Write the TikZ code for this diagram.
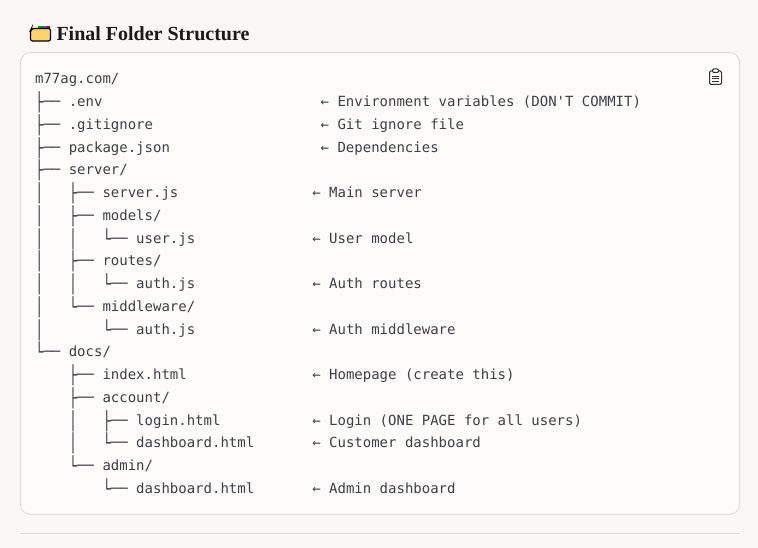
\documentclass[tikz,border=0pt]{standalone}
\usepackage{graphicx}
\usepackage{fontspec}
\setmainfont{Liberation Serif}
\setmonofont{DejaVu Sans Mono}
\usetikzlibrary{positioning}
\definecolor{pagebg}{RGB}{249,248,245}
\definecolor{cardbg}{RGB}{253,252,251}
\definecolor{cardline}{RGB}{224,221,215}
\definecolor{codeink}{RGB}{62,62,70}
\definecolor{iconink}{RGB}{50,50,54}
\definecolor{titleink}{RGB}{26,26,26}
\definecolor{folderfill}{RGB}{252,211,110}
\tikzset{every picture/.style={line width=0.75pt}}
\tikzset{
  treeline/.style={anchor=base west,inner sep=0pt,text=codeink,font=\ttfamily\fontsize{10.5pt}{12pt}\selectfont},
  noteline/.style={treeline},
  cardshape/.style={draw=cardline,fill=cardbg,rounded corners=7.5pt},
  iconline/.style={draw=iconink,line width=0.75pt}
}
%taller tree glyphs
\newcommand{\tallglyph}[1]{\raisebox{-0.77pt}{\scalebox{1}[1.28]{#1}}}
\newcommand{\barall}{\tallglyph{│}}
\newcommand{\barmid}{\tallglyph{├}}
\newcommand{\barend}{\tallglyph{└}}

\begin{document}
\begin{tikzpicture}[x=0.75pt,y=0.75pt,yscale=-1,xscale=1]
%page
\fill [pagebg] (0,0) rectangle (758,548);
\useasboundingbox (0,0) rectangle (758,548);

%card
\draw [cardshape] (20.5,52.5) rectangle (739.5,514.5);
%rule under the card
\draw [cardline] (20,533.5) -- (740,533.5);

%folder emoji
\fill [green!60!black] (38,26.5) rectangle (44,30);
\fill [blue!70!white] (43,26.5) rectangle (47,30);
\fill [red!80!black] (46.5,26.5) rectangle (50,30);
\draw [black,line width=0.9pt,fill=folderfill,rounded corners=1.5pt] (30.5,30.5) -- (31.5,28.5) -- (50.5,28.5) -- (50.5,41) -- (30.5,41) -- cycle;

%clipboard icon
\draw [iconline,rounded corners=1pt] (709.5,71) rectangle (721.5,84.5);
\draw [iconline,fill=cardbg,rounded corners=0.8pt] (712.5,69) rectangle (718.5,72.5);
\draw [iconline,line width=0.6pt] (712,76) -- (719,76);
\draw [iconline,line width=0.6pt] (712,78.5) -- (719,78.5);
\draw [iconline,line width=0.6pt] (712,81) -- (719,81);

% Title
\node (title) [anchor=base west,inner sep=0pt,text=titleink,font=\fontsize{15pt}{17pt}\selectfont\bfseries] at (56,40.5) {Final Folder Structure};

% Tree
\node (root) [treeline] at (34.6,84) {m77ag.com/};
\node (envfile) [treeline] at (34.6,107) {\barmid──~.env};
\node (gitfile) [treeline] at (34.6,130) {\barmid──~.gitignore};
\node (pkgfile) [treeline] at (34.6,153) {\barmid──~package.json};
\node (serverdir) [treeline] at (34.6,175) {\barmid──~server/};
\node (serverjs) [treeline] at (34.6,198) {\barall~~~\barmid──~server.js};
\node (modelsdir) [treeline] at (34.6,221) {\barall~~~\barmid──~models/};
\node (userjs) [treeline] at (34.6,244) {\barall~~~\barall~~~\barend──~user.js};
\node (routesdir) [treeline] at (34.6,266) {\barall~~~\barmid──~routes/};
\node (authjs) [treeline] at (34.6,289) {\barall~~~\barall~~~\barend──~auth.js};
\node (middir) [treeline] at (34.6,312) {\barall~~~\barend──~middleware/};
\node (midjs) [treeline] at (34.6,335) {\barall~~~~~~~\barend──~auth.js};
\node (docsdir) [treeline] at (34.6,357) {\barend──~docs/};
\node (indexhtml) [treeline] at (34.6,380) {~~~~\barmid──~index.html};
\node (accountdir) [treeline] at (34.6,403) {~~~~\barmid──~account/};
\node (loginhtml) [treeline] at (34.6,426) {~~~~\barall~~~\barmid──~login.html};
\node (custhtml) [treeline] at (34.6,448) {~~~~\barall~~~\barend──~dashboard.html};
\node (admindir) [treeline] at (34.6,471) {~~~~\barend──~admin/};
\node (adminhtml) [treeline] at (34.6,494) {~~~~~~~~\barend──~dashboard.html};

% Notes
\node (envnote) [noteline] at (320.2,107) {←~Environment variables (DON'T COMMIT)};
\node (gitnote) [noteline] at (320.2,130) {←~Git ignore file};
\node (pkgnote) [noteline] at (320.2,153) {←~Dependencies};
\node (servernote) [noteline] at (311.8,198) {←~Main server};
\node (usernote) [noteline] at (311.8,244) {←~User model};
\node (authnote) [noteline] at (311.8,289) {←~Auth routes};
\node (midnote) [noteline] at (311.8,335) {←~Auth middleware};
\node (indexnote) [noteline] at (311.8,380) {←~Homepage (create this)};
\node (loginnote) [noteline] at (311.8,426) {←~Login (ONE PAGE for all users)};
\node (custnote) [noteline] at (311.8,448) {←~Customer dashboard};
\node (adminnote) [noteline] at (311.8,494) {←~Admin dashboard};

\end{tikzpicture}
\end{document}
